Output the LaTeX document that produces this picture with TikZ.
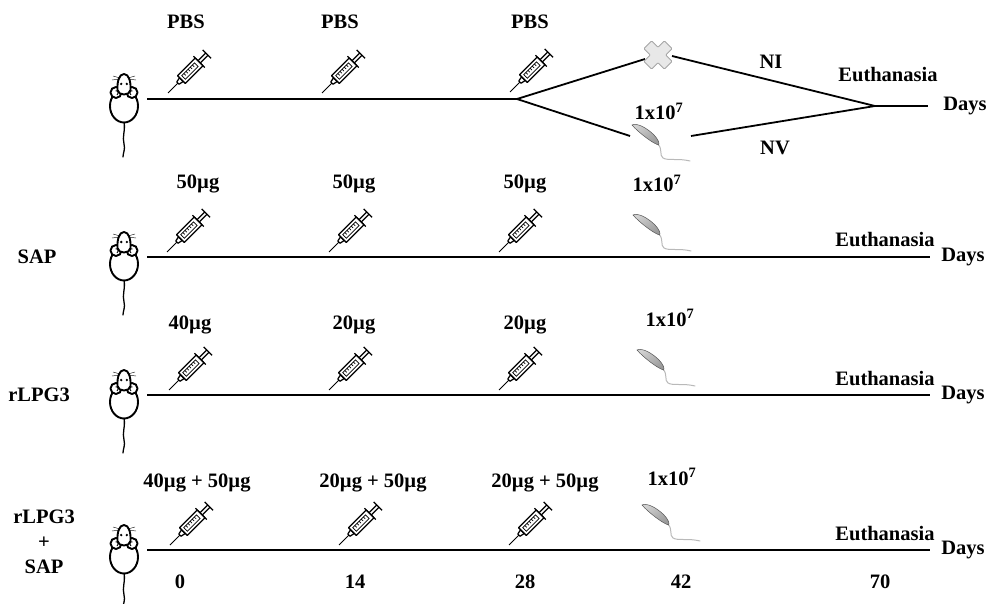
\documentclass[tikz,border=0pt]{standalone}
\usepackage{fontspec}
\setmainfont{Liberation Serif}
\begin{document}
\begin{tikzpicture}[x=1pt,y=-1pt,
  lbl/.style={font=\fontsize{20.5}{25}\selectfont\bfseries, inner sep=0pt},
  tline/.style={line width=2pt},
  bline/.style={line width=1.8pt},
  mline/.style={line width=1.9pt, line join=round},
  sy/.style={line width=1.25pt, line join=round},
  mouse/.pic={
    % tail
    \draw[line width=1.3pt, line cap=round] (0,23) .. controls (1.5,32) and (-2,38) .. (0,45)
      .. controls (1.5,50) and (-1,54) .. (-1,58);
    % body
    \draw[mline, fill=white] (0,7) ellipse [x radius=14, y radius=16.5];
    % side lobes
    \draw[mline, fill=white] (-8,-6.5) circle (5.5);
    \draw[mline, fill=white] (8,-6.5) circle (5.5);
    \draw[line width=0.9pt] (-8.5,-8) .. controls (-6,-9) and (-5,-6) .. (-7,-4);
    \draw[line width=0.9pt] (8.5,-8) .. controls (6,-9) and (5,-6) .. (7,-4);
    % head
    \draw[mline, fill=white] (0,-25) .. controls (5,-25) and (7,-17) .. (6.5,-9)
      .. controls (6,-3) and (-6,-3) .. (-6.5,-9)
      .. controls (-7,-17) and (-5,-25) .. (0,-25) -- cycle;
    \fill (-2.8,-15) circle (1.3);
    \fill (2.8,-15) circle (1.3);
    % whiskers
    \draw[line width=0.4pt] (-4,-21) -- (-11,-23) (-4,-20) -- (-12,-19)
      (4,-21) -- (11,-23) (4,-20) -- (12,-19);
  },
  syringe/.pic={
    \draw[line width=0.9pt] (0,0) -- (14,0);
    \draw[sy, fill=white] (14,-1.6) -- (19,-2.6) -- (19,2.6) -- (14,1.6) -- cycle;
    \draw[sy, fill=white] (19,-5.5) rectangle (44,5.5);
    \draw[line width=0.7pt] (22,-2.6) rectangle (40,2.6);
    \foreach \t in {25,28,31,34,37} \draw[line width=0.6pt] (\t,-2.6) -- (\t,0);
    \draw[sy] (44,-8) -- (44,8);
    \draw[sy] (44,-1.6) -- (55,-1.6) (44,1.6) -- (55,1.6);
    \draw[sy] (55,-6) -- (55,6);
  },
  parasite/.pic={
    \draw[gray!55, line width=1pt, line cap=round] (26,19) .. controls (31,25) and (27,30) .. (31,33)
      .. controls (36,36) and (46,33) .. (58,36);
    \draw[gray!65!black, line width=0.5pt, left color=gray!35, right color=gray!80, shading angle=35]
      (0,0) .. controls (5,-2.5) and (15,3) .. (22,10)
      .. controls (26,14) and (28,19) .. (26.5,20)
      .. controls (20,18) and (6,7) .. (0,0) -- cycle;
  }
]
\useasboundingbox (0,0) rectangle (996,604);

% ---------- row 1: PBS controls ----------
\pic at (124,99) {mouse};
\coordinate (s1) at (147,99);
\coordinate (br) at (517,99);
\coordinate (xw) at (645,59);
\coordinate (xe) at (672,56);
\coordinate (pw) at (630,136);
\coordinate (pe) at (691,136);
\coordinate (jn) at (875,106);
\coordinate (e1) at (928,106);
\draw[tline] (s1) -- (br);
\draw[bline] (br) -- (xw);
\draw[bline] (br) -- (pw);
\draw[bline] (xe) -- (jn);
\draw[bline] (pe) -- (jn);
\draw[tline] (jn) -- (e1);
\begin{scope}[shift={(658,55)}, rotate=45]
  \draw[gray!70, line width=0.8pt, fill=gray!18, rounded corners=0.8pt]
    (-5.5,-14.5) -- (5.5,-14.5) -- (5.5,-5.5) -- (14.5,-5.5) -- (14.5,5.5) -- (5.5,5.5) -- (5.5,14.5)
    -- (-5.5,14.5) -- (-5.5,5.5) -- (-14.5,5.5) -- (-14.5,-5.5) -- (-5.5,-5.5) -- cycle;
\end{scope}
\pic[rotate=45] at (168,93) {syringe};
\pic[rotate=45] at (322,93) {syringe};
\pic[rotate=45] at (510,92) {syringe};
\pic at (632,125) {parasite};
\node[lbl, anchor=base] (p11) at (186,29) {PBS};
\node[lbl, anchor=base] (p12) at (340,29) {PBS};
\node[lbl, anchor=base] (p13) at (530,29) {PBS};
\node[lbl, anchor=base] (i1) at (659,120) {1x10\textsuperscript{7}};
\node[lbl, anchor=base] (ni) at (771,69) {NI};
\node[lbl, anchor=base] (nv) at (775,155) {NV};
\node[lbl, anchor=base] (eu1) at (888,82) {Euthanasia};
\node[lbl] (d1) at (965,106) {Days};

% ---------- row 2: SAP ----------
\node[lbl] (g2) at (37,257) {SAP};
\pic at (124,257) {mouse};
\coordinate (s2) at (147,257);
\coordinate (e2) at (930,257);
\draw[tline] (s2) -- (e2);
\pic[rotate=45] at (167,252) {syringe};
\pic[rotate=45] at (329,252) {syringe};
\pic[rotate=45] at (499,252) {syringe};
\pic at (633,215) {parasite};
\node[lbl, anchor=base] (a21) at (198,189) {50µg};
\node[lbl, anchor=base] (a22) at (354,189) {50µg};
\node[lbl, anchor=base] (a23) at (525,189) {50µg};
\node[lbl, anchor=base] (i2) at (657,192) {1x10\textsuperscript{7}};
\node[lbl, anchor=base] (eu2) at (885,247) {Euthanasia};
\node[lbl] (d2) at (963,257) {Days};

% ---------- row 3: rLPG3 ----------
\node[lbl] (g3) at (39,395) {rLPG3};
\pic at (124,395) {mouse};
\coordinate (s3) at (147,395);
\coordinate (e3) at (930,395);
\draw[tline] (s3) -- (e3);
\pic[rotate=45] at (169,390) {syringe};
\pic[rotate=45] at (329,390) {syringe};
\pic[rotate=45] at (499,390) {syringe};
\pic at (637,350) {parasite};
\node[lbl, anchor=base] (a31) at (190,329) {40µg};
\node[lbl, anchor=base] (a32) at (354,329) {20µg};
\node[lbl, anchor=base] (a33) at (525,329) {20µg};
\node[lbl, anchor=base] (i3) at (670,326) {1x10\textsuperscript{7}};
\node[lbl, anchor=base] (eu3) at (885,385) {Euthanasia};
\node[lbl] (d3) at (963,395) {Days};

% ---------- row 4: rLPG3 + SAP ----------
\node[lbl, align=center] (g4) at (44,542) {rLPG3\\+\\SAP};
\pic at (124,550) {mouse};
\coordinate (s4) at (147,550);
\coordinate (e4) at (930,550);
\draw[tline] (s4) -- (e4);
\pic[rotate=45] at (170,545) {syringe};
\pic[rotate=45] at (339,545) {syringe};
\pic[rotate=45] at (509,545) {syringe};
\pic at (642,505) {parasite};
\node[lbl, anchor=base] (a41) at (197,487) {40µg + 50µg};
\node[lbl, anchor=base] (a42) at (373,487) {20µg + 50µg};
\node[lbl, anchor=base] (a43) at (545,487) {20µg + 50µg};
\node[lbl, anchor=base] (i4) at (672,485) {1x10\textsuperscript{7}};
\node[lbl, anchor=base] (eu4) at (885,540) {Euthanasia};
\node[lbl] (d4) at (963,550) {Days};

% ---------- day axis ----------
\node[lbl, anchor=base] (t0) at (180,588) {0};
\node[lbl, anchor=base] (t14) at (355,588) {14};
\node[lbl, anchor=base] (t28) at (525,588) {28};
\node[lbl, anchor=base] (t42) at (681,588) {42};
\node[lbl, anchor=base] (t70) at (880,588) {70};
\end{tikzpicture}
\end{document}
